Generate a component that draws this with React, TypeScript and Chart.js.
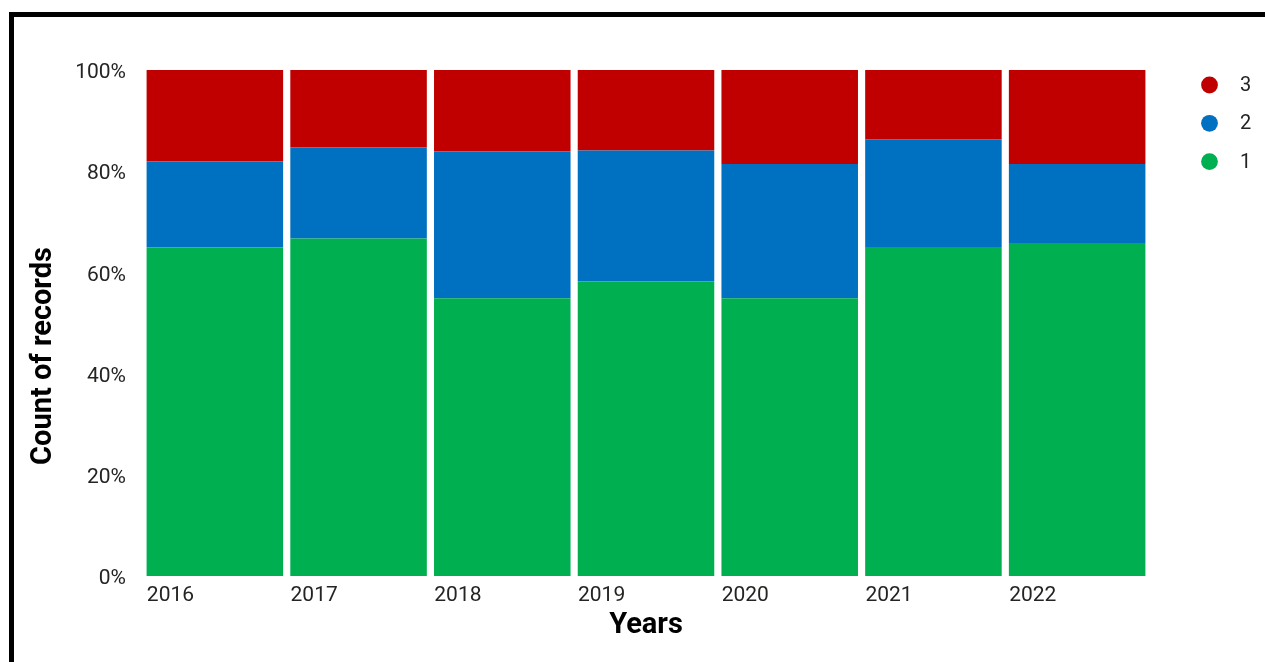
import React, { useEffect, useRef } from "react";
import { Chart, registerables } from "chart.js";

Chart.register(...registerables);

// ---- data ----
const years = ["2016", "2017", "2018", "2019", "2020", "2021", "2022"];
const seriesNames = ["1", "2", "3"];
const share1 = [64.9, 66.7, 54.9, 58.2, 54.9, 65.0, 65.8];
const share2 = [17.0, 18.0, 29.0, 25.9, 26.5, 21.3, 15.6];
const share3 = [18.1, 15.3, 16.1, 15.9, 18.6, 13.7, 18.6];
const yTickValues = [0, 20, 40, 60, 80, 100];
const yTitle = "Count of records";
const xTitle = "Years";

const seriesColors = ["#00B050", "#0070C0", "#C00000"];
const FONT = "Roboto";

const sideTextPlugin = {
  id: "sideText",
  afterDraw(chart: any) {
    const { ctx, chartArea } = chart;
    // y axis title
    ctx.save();
    ctx.font = `bold 29px ${FONT}`;
    ctx.fillStyle = "#000";
    ctx.textAlign = "center";
    ctx.textBaseline = "middle";
    ctx.translate(30, chartArea.top + 286);
    ctx.rotate(-Math.PI / 2);
    ctx.fillText(yTitle, 0, 0);
    ctx.restore();

    // legend (reversed order: top series first)
    ctx.save();
    const ds = chart.data.datasets;
    const cx = chartArea.right + 60.5;
    const tx = chartArea.right + 91;
    let y = chartArea.top + 15;
    for (let i = ds.length - 1; i >= 0; i--) {
      ctx.beginPath();
      ctx.fillStyle = ds[i].backgroundColor;
      ctx.arc(cx, y, 8.4, 0, Math.PI * 2);
      ctx.fill();
      ctx.font = `20px ${FONT}`;
      ctx.fillStyle = "#252423";
      ctx.textAlign = "left";
      ctx.textBaseline = "middle";
      ctx.fillText(ds[i].label, tx, y + 1);
      y += 38.3;
    }
    ctx.restore();
  },
};

export default function App() {
  const canvasRef = useRef<HTMLCanvasElement | null>(null);

  useEffect(() => {
    if (!canvasRef.current) return;
    const values = [share1, share2, share3];
    const chart = new Chart(canvasRef.current, {
      type: "bar",
      data: {
        labels: years,
        datasets: values.map((v, i) => ({
          label: seriesNames[i],
          data: v,
          backgroundColor: seriesColors[i],
          borderWidth: 0,
          barPercentage: 1,
          categoryPercentage: 0.95,
        })),
      },
      options: {
        responsive: false,
        animation: false,
        layout: { padding: { top: 53, right: 116, bottom: 0, left: 0 } },
        plugins: {
          legend: { display: false },
          tooltip: { enabled: false },
        },
        scales: {
          x: {
            stacked: true,
            grid: { display: false, drawTicks: false },
            border: { display: false },
            ticks: {
              align: "start",
              labelOffset: -68,
              padding: 7,
              maxRotation: 0,
              autoSkip: false,
              color: "#252423",
              font: { family: FONT, size: 21 },
            },
            title: {
              display: true,
              text: xTitle,
              color: "#000",
              font: { family: FONT, size: 29, weight: "bold" },
              padding: { top: 0, bottom: 19 },
            },
            afterFit: (scale: any) => {
              scale.height = 86;
            },
          },
          y: {
            stacked: true,
            min: 0,
            max: 100,
            grid: { display: false, drawTicks: false },
            border: { display: false },
            afterBuildTicks: (scale: any) => {
              scale.ticks = yTickValues.map((v) => ({ value: v }));
            },
            ticks: {
              padding: 17,
              labelOffset: 3,
              color: "#252423",
              font: { family: FONT, size: 21 },
              callback: (v: any) => `${v}%`,
            },
            afterFit: (scale: any) => {
              scale.width = 129;
            },
          },
        },
      },
      plugins: [sideTextPlugin],
    });
    return () => chart.destroy();
  }, []);

  return (
    <div
      style={{
        position: "fixed",
        left: 0,
        top: 0,
        width: "100vw",
        height: "100vh",
        overflow: "hidden",
        background: "#fff",
      }}
    >
      <div
        style={{
          position: "absolute",
          left: 9,
          top: 12,
          width: 1400,
          height: 800,
          border: "5px solid #000",
          boxSizing: "border-box",
        }}
      />
      <canvas
        ref={canvasRef}
        width={1251}
        height={645}
        style={{ position: "absolute", left: 14, top: 17, width: 1251, height: 645, display: "block" }}
      />
    </div>
  );
}
